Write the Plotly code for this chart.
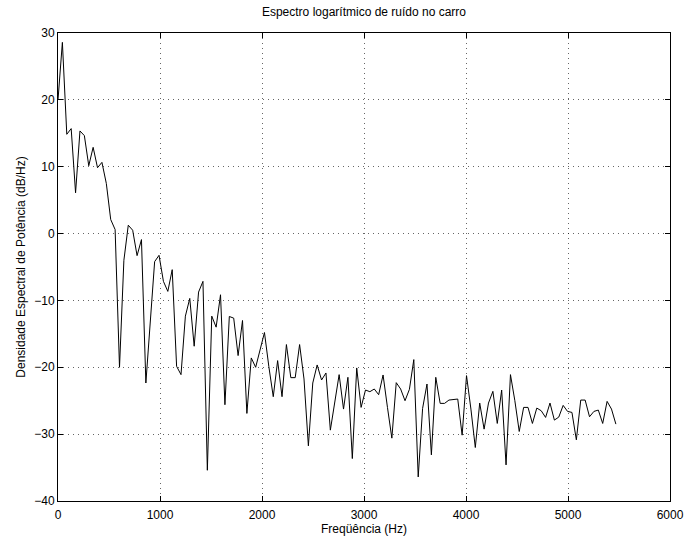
import numpy as np
import plotly.graph_objects as go

# frequency bin spacing (Hz) and bin count
bin_hz = 11025 / 256
n_bins = 128
freq = np.arange(n_bins) * bin_hz

psd_db = [
    20.0, 28.6, 14.85, 15.7, 6.1, 15.35, 14.65, 10.15, 12.9, 9.85,
    10.65, 7.5, 2.1, 0.6, -20.0, -4.0, 1.25, 0.5, -3.3, -0.9,
    -22.35, -13.3, -4.2, -3.25, -7.15, -8.65, -5.4, -19.85, -21.1, -12.35,
    -9.7, -16.85, -8.75, -7.15, -35.4, -12.35, -14.0, -9.15, -25.6, -12.4,
    -12.65, -18.25, -13.0, -26.9, -18.6, -20.0, -17.4, -14.8, -19.9, -24.4,
    -19.0, -24.4, -16.6, -21.55, -21.55, -16.6, -21.75, -31.75, -22.35, -19.65,
    -21.9, -20.85, -29.4, -25.25, -21.1, -26.25, -21.5, -33.65, -20.1, -26.0,
    -23.4, -23.65, -23.25, -24.1, -21.15, -26.0, -30.6, -22.3, -23.25, -25.0,
    -23.3, -18.85, -36.4, -26.15, -22.5, -33.1, -21.5, -25.4, -25.4, -24.9,
    -24.85, -24.75, -30.15, -21.25, -26.25, -32.0, -25.35, -29.25, -25.35, -23.6,
    -28.4, -23.4, -34.6, -21.1, -25.0, -29.6, -26.0, -26.0, -28.4, -26.1,
    -26.5, -27.5, -25.35, -27.9, -27.45, -25.7, -26.6, -26.75, -30.85, -24.9,
    -24.9, -27.4, -26.6, -26.4, -28.4, -25.1, -26.25, -28.5,
]

x_ticks = [0, 1000, 2000, 3000, 4000, 5000, 6000]
y_ticks = [-40, -30, -20, -10, 0, 10, 20, 30]

title_text = "Espectro logarítmico de ruído no carro"
x_label = "Freqüência (Hz)"
y_label = "Densidade Espectral de Potência (dB/Hz)"

font_family = "Liberation Sans, Arial, sans-serif"

fig = go.Figure()
fig.add_trace(go.Scatter(
    x=freq, y=psd_db, mode="lines",
    line=dict(color="black", width=1),
    showlegend=False, hoverinfo="skip",
))

axis_common = dict(
    showline=True, linecolor="black", linewidth=1, mirror="allticks",
    ticks="inside", ticklen=5, tickcolor="black", tickwidth=1,
    showgrid=True, gridcolor="rgba(0,0,0,0.6)", griddash="1px,4px", gridwidth=1,
    zeroline=False, automargin=False,
    tickfont=dict(family=font_family, size=12, color="black"),
)

fig.update_layout(
    width=689, height=537, autosize=False,
    margin=dict(l=58, r=19, t=33, b=36),
    paper_bgcolor="white", plot_bgcolor="white",
    font=dict(family=font_family, size=12, color="black"),
    title=dict(text=title_text, x=0.5 + (58 - 19) / 2 / 689, xanchor="center",
               y=1 - 12 / 537, yanchor="middle", yref="container",
               font=dict(family=font_family, size=12, color="black")),
    xaxis=dict(range=[0, 6000], tickvals=x_ticks, ticklabelstandoff=3,
               title=dict(text=x_label, standoff=1,
                          font=dict(family=font_family, size=12)),
               **axis_common),
    yaxis=dict(range=[-40, 30], tickvals=y_ticks,
               title=dict(text=y_label, standoff=6,
                          font=dict(family=font_family, size=12)),
               **axis_common),
)

fig.write_html("out.html")
